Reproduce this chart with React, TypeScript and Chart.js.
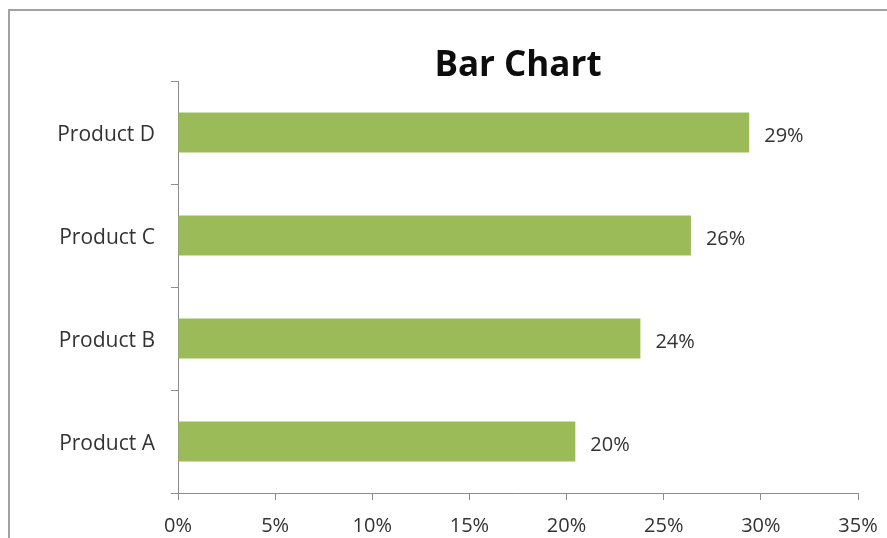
import React, { useEffect, useRef } from "react";
import { Chart, registerables } from "chart.js";

Chart.register(...registerables);

const categories = ["Product A", "Product B", "Product C", "Product D"];
const shareValues = [20.45, 23.8, 26.4, 29.4];
const xTickMax = 35;
const xTickStep = 5;
const chartTitle = "Bar Chart";

const FONT = "'Open Sans', 'DejaVu Sans', sans-serif";
const TEXT = "#333333";
const AXIS = "#8c8c8c";
const BAR = "#9BBB59";

const dataLabelPlugin = {
  id: "dataLabels",
  afterDatasetsDraw(chart: any) {
    const ctx = chart.ctx;
    const meta = chart.getDatasetMeta(0);
    const ds = chart.data.datasets[0];
    ctx.save();
    ctx.font = `20px ${FONT}`;
    ctx.fillStyle = TEXT;
    ctx.textAlign = "left";
    ctx.textBaseline = "middle";
    meta.data.forEach((el: any, i: number) => {
      const v = ds.data[i] as number;
      ctx.fillText(Math.round(v) + "%", el.x + 15, el.y + 4);
    });
    ctx.restore();
  },
};

export default function App() {
  const ref = useRef<HTMLCanvasElement>(null);

  useEffect(() => {
    if (!ref.current) return;
    const chart = new Chart(ref.current, {
      type: "bar",
      data: {
        labels: categories,
        datasets: [
          {
            data: shareValues,
            backgroundColor: BAR,
            borderWidth: 0,
            categoryPercentage: 1,
            barPercentage: 0.39,
          },
        ],
      },
      plugins: [dataLabelPlugin],
      options: {
        indexAxis: "y",
        responsive: false,
        animation: false,
        devicePixelRatio: 1,
        layout: { padding: { left: 0, right: 29, top: 0, bottom: 0 } },
        plugins: {
          legend: { display: false },
          tooltip: { enabled: false },
          title: {
            display: true,
            text: chartTitle,
            fullSize: false,
            color: "#0d0d0d",
            font: { family: FONT, size: 35, weight: "bold", lineHeight: 1 },
            padding: { top: 49, bottom: -3 },
          },
        },
        scales: {
          y: {
            type: "category",
            reverse: true,
            offset: true,
            afterFit(scale: any) {
              scale.width = 178;
              scale.paddingTop = 0;
              scale.paddingBottom = 0;
            },
            grid: {
              offset: true,
              drawOnChartArea: false,
              drawTicks: true,
              tickLength: 7,
              color: AXIS,
            },
            border: { display: true, color: AXIS, width: 1 },
            ticks: {
              color: TEXT,
              font: { family: FONT, size: 21 },
              padding: 16,
              labelOffset: 3,
            },
          },
          x: {
            type: "linear",
            min: 0,
            max: xTickMax,
            afterFit(scale: any) {
              scale.height = 45;
              scale.paddingLeft = 0;
              scale.paddingRight = 0;
            },
            grid: {
              drawOnChartArea: false,
              drawTicks: true,
              tickLength: 7,
              color: AXIS,
            },
            border: { display: true, color: AXIS, width: 1 },
            ticks: {
              stepSize: xTickStep,
              color: TEXT,
              font: { family: FONT, size: 20 },
              padding: 14,
              maxRotation: 0,
              callback: (v: any) => v + "%",
            },
          },
        },
      },
    });
    return () => chart.destroy();
  }, []);

  return (
    <div>
      <div
        style={{
          position: "fixed",
          left: 8,
          top: 9,
          right: 0,
          bottom: 0,
          borderTop: "2px solid #a3a3a3",
          borderLeft: "2px solid #a3a3a3",
          background: "#fff",
        }}
      />
      <canvas
        ref={ref}
        width={887}
        height={538}
        style={{ position: "fixed", left: 0, top: 0, width: 887, height: 538 }}
      />
    </div>
  );
}
